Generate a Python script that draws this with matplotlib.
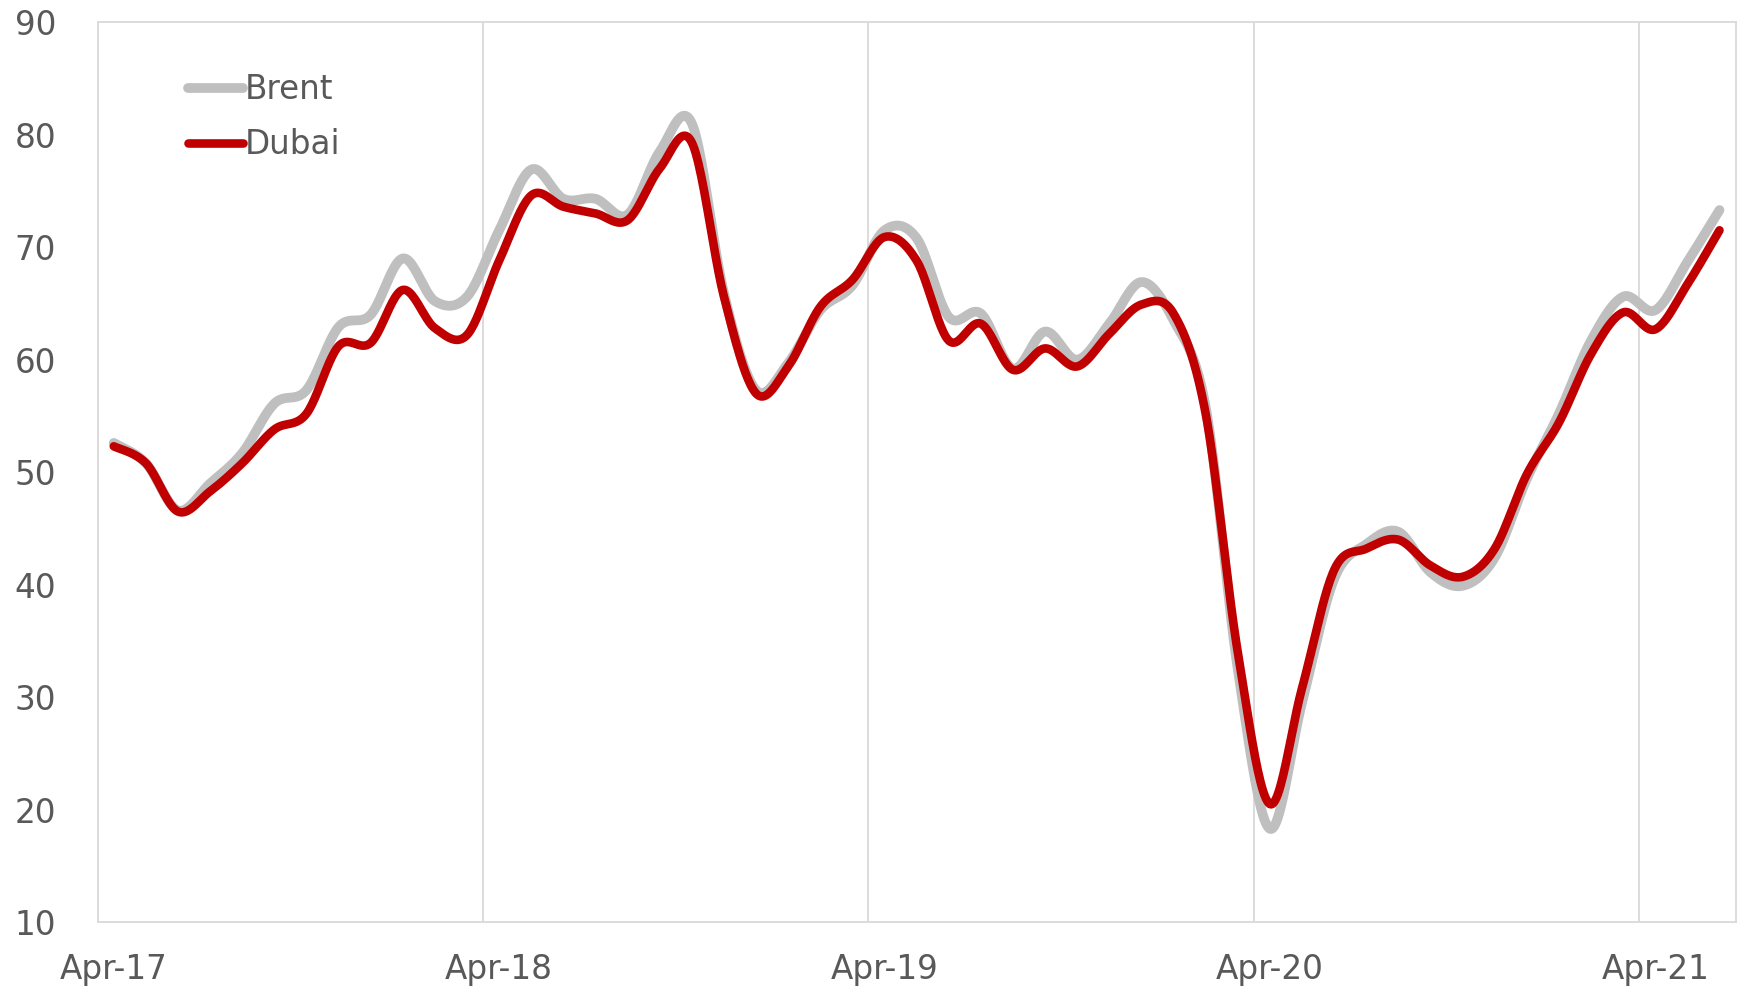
import numpy as np
import pandas as pd
import matplotlib
matplotlib.use('Agg')
import matplotlib.pyplot as plt

######################################################################
######### Data (monthly averages, USD/bbl)
######################################################################
months = pd.date_range('2017-04-01', periods=51, freq='MS')
month_labels = [m.strftime('%b-%y') for m in months]

brent = [52.6, 50.8, 46.6, 49.0, 51.7, 56.1, 57.3, 62.9, 64.0, 69.0,
         65.2, 65.6, 71.5, 76.9, 74.3, 74.3, 72.9, 78.5, 81.0, 65.9,
         57.3, 59.7, 64.4, 66.6, 71.5, 70.8, 63.8, 64.1, 59.2, 62.5,
         60.0, 63.2, 66.9, 63.5, 55.8, 32.5, 18.3, 29.5, 40.5, 43.6,
         44.7, 41.1, 39.9, 42.4, 49.4, 55.2, 61.7, 65.6, 64.4, 68.7,
         73.3]

dubai = [52.3, 50.8, 46.5, 48.3, 50.8, 53.8, 55.2, 61.2, 61.5, 66.2,
         62.8, 62.2, 68.8, 74.6, 73.6, 73.0, 72.4, 77.0, 79.3, 65.6,
         57.0, 59.4, 64.7, 67.1, 70.9, 68.8, 61.7, 63.2, 59.1, 61.0,
         59.4, 62.3, 64.9, 64.1, 55.2, 34.0, 20.5, 30.8, 41.3, 43.2,
         44.0, 41.7, 40.7, 43.2, 49.8, 54.4, 60.5, 64.2, 62.7, 66.7,
         71.5]

yticks = [10, 20, 30, 40, 50, 60, 70, 80, 90]


######################################################################
######### Functions used
######################################################################
def smooth(x, y, n=24):
    # bezier segments with catmull-rom control points (like a "smoothed line")
    x = np.asarray(x, dtype=float)
    y = np.asarray(y, dtype=float)
    px = np.concatenate(([x[0]], x, [x[-1]]))
    py = np.concatenate(([y[0]], y, [y[-1]]))
    t = np.linspace(0, 1, n, endpoint=False)
    xs, ys = [], []
    for i in range(1, len(px) - 2):
        c1x = px[i] + (px[i+1] - px[i-1]) / 6.
        c1y = py[i] + (py[i+1] - py[i-1]) / 6.
        c2x = px[i+1] - (px[i+2] - px[i]) / 6.
        c2y = py[i+1] - (py[i+2] - py[i]) / 6.
        b0 = (1 - t)**3
        b1 = 3 * (1 - t)**2 * t
        b2 = 3 * (1 - t) * t**2
        b3 = t**3
        xs.append(b0*px[i] + b1*c1x + b2*c2x + b3*px[i+1])
        ys.append(b0*py[i] + b1*c1y + b2*c2y + b3*py[i+1])
    xs.append([x[-1]])
    ys.append([y[-1]])
    return np.concatenate(xs), np.concatenate(ys)


######################################################################
plt.rcParams['font.family'] = ['DejaVu Sans']
txtcol = '#595959'
gridcol = '#D9D9D9'
fsize = 23.5

fig = plt.figure(figsize=(17.42, 9.9), dpi=100)
ax = fig.add_axes([0.0561, 0.0685, 0.9402, 0.9091])

idx = np.arange(len(months))

bx, by = smooth(idx, brent)
dx, dy = smooth(idx, dubai)
ax.plot(bx, by, color='#BFBFBF', lw=7.0, solid_capstyle='round', label='Brent', zorder=3)
ax.plot(dx, dy, color='#C00000', lw=6.2, solid_capstyle='round', label='Dubai', zorder=4)

ax.set_xlim(-0.5, len(months) - 0.5)
ax.set_ylim(10, 90)

# vertical gridlines between Mar and Apr of each year
for i in range(12, len(months), 12):
    ax.axvline(i - 0.5, color=gridcol, lw=1.3, zorder=1)

tick_pos = [i for i in idx if months[i].month == 4]
ax.set_xticks(tick_pos)
ax.set_xticklabels([month_labels[i] for i in tick_pos])
ax.set_yticks(yticks)
ax.tick_params(axis='both', length=0, labelsize=fsize, colors=txtcol)
ax.tick_params(axis='x', pad=22)
ax.tick_params(axis='y', pad=30)

for s in ax.spines.values():
    s.set_color(gridcol)
    s.set_linewidth(1.3)

leg = ax.legend(loc='upper left', bbox_to_anchor=(0.047, 0.958), frameon=False,
                fontsize=fsize, handlelength=1.7, handletextpad=0.05,
                labelspacing=0.68, borderaxespad=0)
for t in leg.get_texts():
    t.set_color(txtcol)

plt.savefig('out.png', dpi=100)
